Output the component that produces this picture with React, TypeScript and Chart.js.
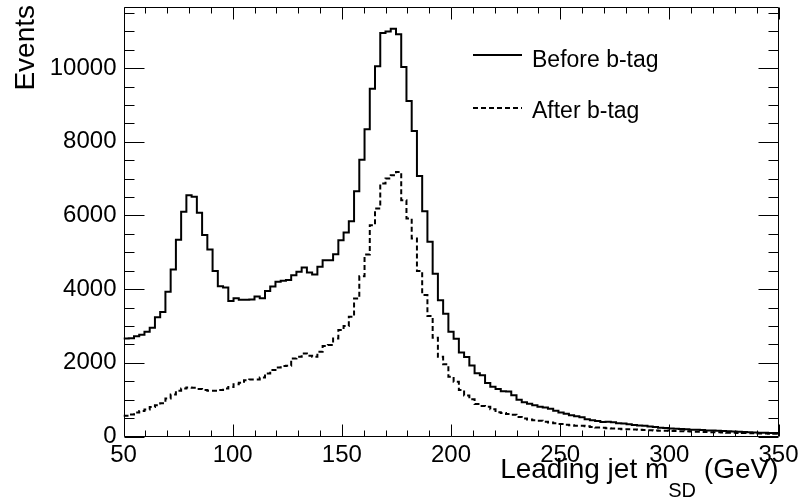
import React, { useEffect, useRef } from 'react';
import { Chart, registerables } from 'chart.js';

Chart.register(...registerables);

// Binning of the histograms (GeV)
const BIN_LOW = 50;
const BIN_WIDTH = 2.4;

// Axis ranges and tick labels
const X_MIN = 50;
const X_MAX = 350;
const Y_MIN = 0;
const Y_MAX = 11650;
const X_TICKS = [50, 100, 150, 200, 250, 300, 350];
const Y_TICKS = [0, 2000, 4000, 6000, 8000, 10000];
const X_MINOR_STEP = 10;
const Y_MINOR_STEP = 500;

const SERIES_NAMES = ['Before b-tag', 'After b-tag'];
const X_TITLE_MAIN = 'Leading jet m';
const X_TITLE_SUB = 'SD';
const X_TITLE_END = ' (GeV)';
const Y_TITLE = 'Events';

// Bin contents, 125 bins from 50 to 350 GeV
const BEFORE = [
  2660, 2670, 2720, 2760, 2840, 2950, 3235, 3380, 3926, 4536,
  5340, 6100, 6550, 6510, 6070, 5470, 5074, 4490, 4080, 4044,
  3680, 3750, 3710, 3710, 3718, 3800, 3755, 3950, 4070, 4200,
  4230, 4250, 4380, 4470, 4587, 4450, 4400, 4610, 4786, 4786,
  4948, 5328, 5535, 5843, 6657, 7515, 8338, 9441, 10050, 10950,
  10990, 11070, 10920, 10030, 9106, 8293, 7072, 6114, 5283, 4415,
  3700, 3330, 2842, 2650, 2278, 2155, 1925, 1720, 1660, 1450,
  1350, 1290, 1230, 1220, 1120, 1000, 930, 890, 850, 810,
  790, 754, 700, 650, 620, 580, 550, 520, 470, 440,
  420, 395, 400, 385, 360, 350, 330, 315, 300, 290,
  270, 260, 240, 230, 220, 210, 205, 195, 185, 180,
  175, 165, 160, 155, 150, 140, 135, 128, 120, 115,
  110, 105, 100, 95, 95,
];

const AFTER = [
  560, 600, 650, 690, 730, 800, 850, 900, 1030, 1140,
  1240, 1300, 1330, 1320, 1290, 1260, 1245, 1245, 1265, 1300,
  1345, 1420, 1460, 1530, 1550, 1550, 1600, 1712, 1803, 1875,
  1911, 1920, 2119, 2164, 2255, 2191, 2164, 2300, 2454, 2481,
  2662, 2888, 3000, 3250, 3747, 4350, 4940, 5735, 6187, 6865,
  7000, 7090, 7181, 6412, 5915, 5372, 4490, 3840, 3270, 2680,
  2165, 1960, 1622, 1486, 1260, 1115, 1010, 880, 830, 808,
  740, 660, 636, 610, 590, 530, 491, 460, 440, 428,
  400, 380, 360, 340, 320, 305, 295, 292, 280, 260,
  245, 238, 225, 220, 210, 200, 195, 190, 180, 175,
  170, 165, 158, 155, 150, 148, 145, 140, 135, 130,
  125, 120, 118, 115, 110, 105, 100, 95, 92, 90,
  85, 82, 80, 78, 75,
];

const FONT = '"Liberation Sans", Arial, Helvetica, sans-serif';
const DASH = [5, 3];

function toSteps(values: number[]) {
  const pts = values.map((v, i) => ({ x: BIN_LOW + BIN_WIDTH * i, y: v }));
  pts.push({ x: BIN_LOW + BIN_WIDTH * values.length, y: values[values.length - 1] });
  return pts;
}

const framePlugin = {
  id: 'rootFrame',
  afterDatasetsDraw(chart: any) {
    const ctx = chart.ctx as CanvasRenderingContext2D;
    const xs = chart.scales.x;
    const ys = chart.scales.y;
    const { left, right, top, bottom } = chart.chartArea;
    ctx.save();
    ctx.strokeStyle = '#000';
    ctx.lineWidth = 1;
    ctx.setLineDash([]);
    const L = Math.round(left) + 0.5;
    const R = Math.round(right) - 0.5;
    const T = Math.round(top) + 0.5;
    const B = Math.round(bottom) - 0.5;
    ctx.beginPath();
    ctx.rect(L, T, R - L, B - T);
    ctx.stroke();
    // x ticks (bottom and top)
    ctx.beginPath();
    for (let v = X_MIN; v <= X_MAX + 1e-9; v += X_MINOR_STEP) {
      const px = Math.round(xs.getPixelForValue(v)) + 0.5;
      const len = X_TICKS.includes(v) ? 12 : 6;
      ctx.moveTo(px, B);
      ctx.lineTo(px, B - len);
      ctx.moveTo(px, T);
      ctx.lineTo(px, T + len);
    }
    // y ticks (left and right)
    for (let v = Y_MIN; v <= Y_MAX + 1e-9; v += Y_MINOR_STEP) {
      const py = Math.round(ys.getPixelForValue(v)) + 0.5;
      const len = Y_TICKS.includes(v) ? 20 : 10;
      ctx.moveTo(L, py);
      ctx.lineTo(L + len, py);
      ctx.moveTo(R, py);
      ctx.lineTo(R - len, py);
    }
    ctx.stroke();

    // Legend
    const ds = chart.data.datasets;
    const entries = [
      { y: 55, ty: 67, label: ds[0].label, dash: ds[0].borderDash || [] },
      { y: 108, ty: 118, label: ds[1].label, dash: ds[1].borderDash || [] },
    ];
    ctx.lineWidth = 2;
    for (const e of entries) {
      ctx.setLineDash(e.dash);
      ctx.beginPath();
      ctx.moveTo(473, e.y);
      ctx.lineTo(522, e.y);
      ctx.stroke();
      ctx.setLineDash([]);
      ctx.fillStyle = '#000';
      ctx.font = `23px ${FONT}`;
      ctx.textAlign = 'left';
      ctx.textBaseline = 'alphabetic';
      ctx.fillText(e.label, 532, e.ty);
    }

    // X title with subscript, right-aligned at frame right
    ctx.fillStyle = '#000';
    ctx.textBaseline = 'alphabetic';
    ctx.textAlign = 'left';
    const mainFont = `28px ${FONT}`;
    const subFont = `20px ${FONT}`;
    ctx.font = mainFont;
    const w1 = ctx.measureText(X_TITLE_MAIN).width;
    const w3 = ctx.measureText(X_TITLE_END).width;
    ctx.font = subFont;
    const w2 = ctx.measureText(X_TITLE_SUB).width;
    const endX = right;
    let x0 = endX - (w1 + w2 + w3);
    const base = 478;
    ctx.font = mainFont;
    ctx.fillText(X_TITLE_MAIN, x0, base);
    x0 += w1;
    ctx.font = subFont;
    ctx.fillText(X_TITLE_SUB, x0, base + 19);
    x0 += w2;
    ctx.font = mainFont;
    ctx.fillText(X_TITLE_END, x0, base);

    // Y title, rotated, right-aligned at top
    ctx.save();
    ctx.translate(34, 5);
    ctx.rotate(-Math.PI / 2);
    ctx.textAlign = 'right';
    ctx.font = mainFont;
    ctx.fillText(Y_TITLE, 0, 0);
    ctx.restore();

    ctx.restore();
  },
};

export default function App() {
  const ref = useRef<HTMLCanvasElement | null>(null);
  useEffect(() => {
    document.body.style.margin = '0';
    const canvas = ref.current;
    if (!canvas) return;
    const chart = new Chart(canvas, {
      type: 'line',
      data: {
        datasets: [
          {
            label: SERIES_NAMES[0],
            data: toSteps(BEFORE),
            borderColor: '#000',
            borderWidth: 2,
            pointRadius: 0,
            stepped: 'before',
            fill: false,
          },
          {
            label: SERIES_NAMES[1],
            data: toSteps(AFTER),
            borderColor: '#000',
            borderWidth: 2,
            borderDash: DASH,
            pointRadius: 0,
            stepped: 'before',
            fill: false,
          },
        ],
      },
      options: {
        responsive: false,
        animation: false,
        devicePixelRatio: 1,
        layout: { padding: { left: 0, right: 21.5, top: 7.3, bottom: 0 } },
        plugins: { legend: { display: false }, tooltip: { enabled: false } },
        scales: {
          x: {
            type: 'linear',
            min: X_MIN,
            max: X_MAX,
            grid: { display: false, drawTicks: false },
            border: { display: false },
            ticks: {
              color: '#000',
              font: { family: FONT, size: 24 },
              padding: 4,
              maxRotation: 0,
              autoSkip: false,
              callback: (v: any) => String(v),
            },
            afterBuildTicks: (s: any) => {
              s.ticks = X_TICKS.map((v) => ({ value: v }));
            },
            afterFit: (s: any) => {
              s.height = 64.5;
              s.paddingLeft = 0;
              s.paddingRight = 0;
            },
          },
          y: {
            type: 'linear',
            min: Y_MIN,
            max: Y_MAX,
            grid: { display: false, drawTicks: false },
            border: { display: false },
            ticks: {
              color: '#000',
              font: { family: FONT, size: 24 },
              padding: 7,
              autoSkip: false,
              callback: (v: any) => String(v),
            },
            afterBuildTicks: (s: any) => {
              s.ticks = Y_TICKS.map((v) => ({ value: v }));
            },
            afterFit: (s: any) => {
              s.width = 123.5;
              s.paddingTop = 0;
              s.paddingBottom = 0;
            },
          },
        },
      },
      plugins: [framePlugin],
    });
    return () => chart.destroy();
  }, []);
  return (
    <div style={{ position: 'fixed', left: 0, top: 0, width: 800, height: 501, background: '#fff' }}>
      <canvas ref={ref} width={800} height={501} />
    </div>
  );
}
